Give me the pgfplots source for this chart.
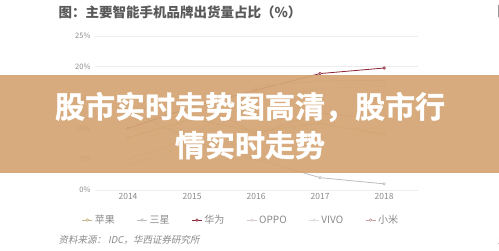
\documentclass[border=0pt]{standalone}
\usepackage{pgfplots}
\pgfplotsset{compat=1.18}
\usepackage{fontspec}
\setmainfont{Noto Sans CJK SC}
\newfontfamily\cjkit{Noto Sans CJK SC}[FakeSlant=0.2]
\newfontfamily\cjkheavy{Noto Sans CJK SC}[UprightFont=* Bold, FakeBold=1.2]
\definecolor{cApple}{HTML}{C8B48A}
\definecolor{cSam}{HTML}{BDBDBD}
\definecolor{cHua}{HTML}{8B2335}
\definecolor{cOppo}{HTML}{D9C9CC}
\definecolor{cVivo}{HTML}{DCDCDC}
\definecolor{cMi}{HTML}{C9A0A0}
\definecolor{banner}{HTML}{D4A574}
\definecolor{txtgray}{HTML}{8A8A8A}
\begin{document}
\begin{tikzpicture}[x=1pt,y=1pt]
\useasboundingbox (0,0) rectangle (499,251);
\fill[white] (0,0) rectangle (499,251);
\begin{axis}[
  at={(95pt,61pt)}, anchor=south west, scale only axis,
  width=323pt, height=154pt,
  xmin=2013.484, xmax=2018.53, ymin=0, ymax=25,
  xtick={2014,2015,2016,2017,2018},
  xticklabels={2014,2015,2016,2017,2018},
  ytick={0,5,10,15,20,25},
  yticklabels={0\%,5\%,10\%,15\%,20\%,25\%},
  axis line style={draw=none}, tick style={draw=none},
  ymajorgrids, grid style={draw=black!7, line width=0.7pt},
  x tick label style={font=\fontsize{8.5}{9}\selectfont, text=txtgray},
  y tick label style={font=\fontsize{7.5}{8}\selectfont, text=txtgray, xshift=-1pt},
  every axis plot/.append style={line width=0.8pt, mark=*, mark size=1.3pt, mark options={fill=white, line width=0.6pt}},
  legend columns=6,
  legend style={at={(0.452,-0.195)}, anchor=center, draw=none, fill=none,
    font=\fontsize{10}{11}\selectfont, text=txtgray,
    /tikz/every even column/.append style={column sep=20pt},
    /tikz/every odd column/.append style={column sep=0pt}},
  legend image code/.code={\draw[mark repeat=2,mark phase=2] plot coordinates {(0pt,0pt)(5pt,0pt)(10pt,0pt)};},
]
\addplot[color=cApple] coordinates {(2014,8.5)(2015,11.5)(2016,9.5)(2017,10.8)(2018,9)};
\addlegendentry{苹果}
\addplot[color=cSam] coordinates {(2014,13)(2015,8)(2016,5)(2017,2)(2018,1)};
\addlegendentry{三星}
\addplot[color=cHua] coordinates {(2014,10)(2015,13.5)(2016,16.2)(2017,18.9)(2018,19.8)};
\addlegendentry{华为}
\addplot[color=cOppo] coordinates {(2014,5)(2015,8.5)(2016,16.8)(2017,17.7)(2018,17.8)};
\addlegendentry{OPPO}
\addplot[color=cVivo] coordinates {(2014,4)(2015,7.5)(2016,14.5)(2017,16.5)(2018,16.8)};
\addlegendentry{VIVO}
\addplot[color=cMi] coordinates {(2014,12.5)(2015,15)(2016,9)(2017,12.5)(2018,11.5)};
\addlegendentry{小米}
\end{axis}
\fill[banner, opacity=0.93] (0,78) rectangle (499,176);
\node[anchor=west, text=black!65, font=\fontsize{13.5}{14}\selectfont\bfseries] at (55,239) {图：主要智能手机品牌出货量占比（\%）};
\node[anchor=west, text=black!65, font=\fontsize{13.5}{14}\selectfont\bfseries] at (494,239) {图};
\node[text=white, font=\fontsize{30}{32}\selectfont\cjkheavy] at (250,144) {股市实时走势图高清，股市行};
\node[text=white, font=\fontsize{30}{32}\selectfont\cjkheavy] at (250,106) {情实时走势};
\node[anchor=west, text=txtgray, font=\fontsize{9.5}{10}\selectfont\cjkit] at (55,11) {资料来源： IDC，华西证券研究所};
\node[anchor=west, text=txtgray, font=\fontsize{9.5}{10}\selectfont\cjkit] at (494,11) {资};
\end{tikzpicture}
\end{document}
